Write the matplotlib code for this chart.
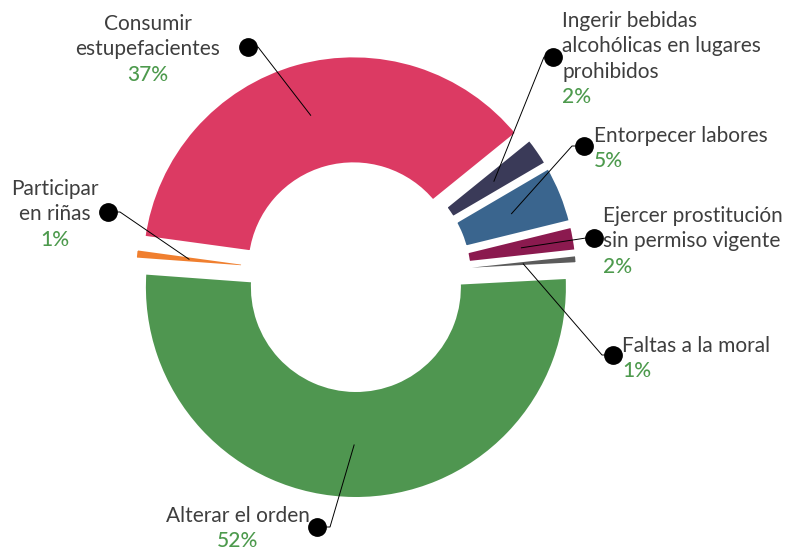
import numpy as np
import matplotlib
matplotlib.use("Agg")
import matplotlib.pyplot as plt

# slices in counter-clockwise order, starting just above 3 o'clock
categories = ["Faltas a la moral",
              "Ejercer prostitución\nsin permiso vigente",
              "Entorpecer labores",
              "Ingerir bebidas\nalcohólicas en lugares\nprohibidos",
              "Consumir\nestupefacientes",
              "Participar\nen riñas",
              "Alterar el orden"]
# estimated shares (%), labels show them rounded
percents = [0.9, 2.1, 4.6, 2.4, 37.0, 1.0, 52.0]
colors = ["#5b5b5b", "#8b1a4f", "#3a658e", "#3a3a58", "#dc3a63", "#f07f2f", "#4f9650"]

W, H = 787, 550
TEXT = "#3e3e3e"
GREEN = "#4d9a4d"
plt.rcParams['font.family'] = ['Lato', 'DejaVu Sans']


def py(y):
    # pixel row -> data y
    return H - y


fig = plt.figure(figsize=(W / 100, H / 100), dpi=100)
ax = fig.add_axes([0, 0, 1, 1])

# white outline trims every slice a little, like the original
edge = 6  # px
wedges, _ = ax.pie(percents, colors=colors, startangle=3, counterclock=True,
                   radius=210 + edge / 2, center=(356, py(277)), explode=[10] * 7,
                   wedgeprops=dict(width=105 + edge, linewidth=edge * 0.72,
                                   edgecolor='white', joinstyle='miter'),
                   frame=False)
ax.set_xlim(0, W)
ax.set_ylim(0, H)
ax.set_aspect('equal')
ax.axis('off')

# label layout: anchor x, first baseline (px), alignment, dot (px), elbow x (px)
layout = [
    (622, 352, 'left', (613, 355), 602),
    (603, 222, 'left', (594, 238), 586),
    (594, 142, 'left', (584, 146), 572),
    (562, 27, 'left', (553, 57), 544),
    (148, 30, 'center', (248, 47), 258),
    (55, 195, 'center', (108, 212), 120),
    (238, 522, 'center', (317, 527), 330),
]
step = 25.3

for w, cat, pct, (tx, ty, ha, dot, ex) in zip(wedges, categories, percents, layout):
    lines = cat.split("\n")
    for i, line in enumerate(lines):
        ax.text(tx, py(ty + i * step), line, ha=ha, va='baseline',
                fontsize=15, color=TEXT)
    ax.text(tx, py(ty + len(lines) * step), f"{pct:.0f}%", ha=ha, va='baseline',
            fontsize=15, color=GREEN, fontweight='medium')

    # leader from the middle of the ring to the dot
    mid = np.deg2rad((w.theta1 + w.theta2) / 2)
    rr = w.r - w.width / 2
    cx, cy = w.center
    sx, sy = cx + rr * np.cos(mid), cy + rr * np.sin(mid)
    ax.plot([sx, ex, dot[0]], [sy, py(dot[1]), py(dot[1])], color='black', lw=0.7,
            solid_capstyle='butt')
    ax.plot(dot[0], py(dot[1]), 'o', color='black', markersize=12.5)

fig.savefig("out.png", dpi=100)
